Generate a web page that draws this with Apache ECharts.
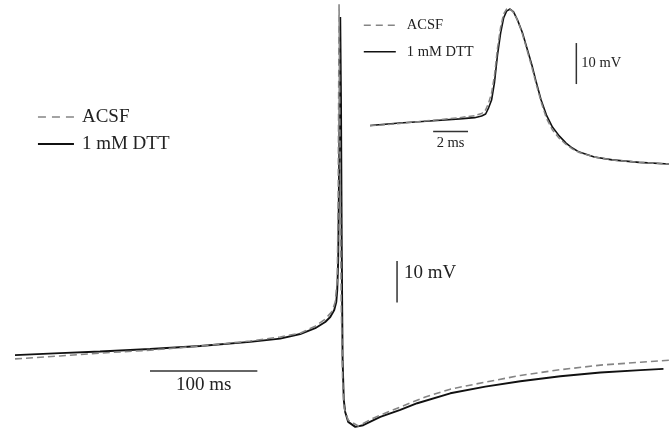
<!DOCTYPE html>
<html>
<head>
<meta charset="utf-8">
<script src="https://cdn.jsdelivr.net/npm/echarts@6/dist/echarts.min.js"></script>
<style>
  html, body { margin: 0; padding: 0; background: #fff; }
  #chart { width: 670px; height: 431px; }
</style>
</head>
<body>
<div id="chart"></div>
<script>
// ---- Data (time in ms, membrane potential in mV) ----
const seriesNames = ['ACSF', '1 mM DTT'];

// Main trace: full action potential with AHP
const mainACSF = [
  [0,-64.6],[41.9,-63.9],[79.2,-63.2],[125.8,-62.5],[172.4,-61.5],[219.0,-60.3],
  [247.0,-59.3],[265.6,-58.4],[279.6,-56.7],[288.9,-55.0],[295.4,-53.1],[298.2,-50.9],
  [300.1,-45.6],[301.0,-26.3],[301.8,21.0],[302.7,-14.2],[303.8,-50.4],[305.1,-69.7],
  [306.6,-76.5],[310.3,-79.4],[319.7,-80.8],[333.6,-78.9],[358.8,-76.2],[382.1,-73.8],
  [405.4,-71.9],[438.0,-70.2],[470.6,-68.6],[507.9,-67.2],[545.2,-66.1],[582.5,-65.4],
  [610.4,-64.9]
];
const mainDTT = [
  [0,-63.7],[41.9,-63.2],[79.2,-62.8],[125.8,-62.2],[172.4,-61.5],[219.0,-60.5],
  [247.0,-59.7],[265.6,-58.6],[279.6,-57.2],[288.9,-55.7],[293.6,-54.5],[297.3,-52.8],
  [299.2,-50.9],[300.1,-48.0],[301.0,-40.7],[302.0,-14.2],[302.9,17.9],[303.6,-2.1],
  [304.3,-38.3],[305.1,-64.9],[306.2,-74.5],[307.5,-77.4],[310.3,-79.8],[316.9,-81.0],
  [324.3,-80.6],[340.2,-78.6],[358.8,-76.9],[374.6,-75.3],[405.4,-72.9],[438.0,-71.3],
  [470.6,-70.0],[507.9,-68.8],[545.2,-67.9],[582.5,-67.3],[603.9,-67.0]
];

// Inset: expanded spike
const insetACSF = [
  [0,-30.7],[1.71,-30.1],[3.43,-29.4],[5.14,-28.7],[6.0,-28.2],[6.4,-27.7],[6.63,-26.8],
  [6.8,-25.1],[6.97,-22.7],[7.14,-18.3],[7.31,-11.7],[7.49,-6.6],[7.66,-3.4],[7.83,-2.2],
  [7.97,-2.1],[8.17,-2.7],[8.4,-4.4],[8.69,-7.6],[8.97,-11.7],[9.26,-16.1],[9.54,-20.7],
  [9.83,-25.1],[10.11,-28.8],[10.46,-31.7],[10.86,-33.8],[11.24,-35.2],[11.6,-36.3],
  [12.0,-37.2],[12.86,-38.3],[13.89,-39.0],[15.43,-39.6],[17.14,-40.0]
];
const insetDTT = [
  [0,-30.6],[1.71,-30.0],[3.43,-29.5],[5.14,-29.0],[6.0,-28.7],[6.4,-28.3],[6.63,-27.8],
  [6.8,-26.3],[6.97,-24.4],[7.14,-20.0],[7.31,-13.4],[7.49,-8.0],[7.66,-4.4],[7.83,-2.7],
  [8.03,-2.2],[8.23,-2.9],[8.46,-4.9],[8.74,-8.0],[9.03,-12.2],[9.31,-16.3],[9.54,-20.2],
  [9.81,-24.4],[10.11,-28.0],[10.46,-31.0],[10.86,-33.2],[11.24,-34.9],[11.6,-36.1],
  [12.0,-37.1],[12.86,-38.3],[13.89,-39.0],[15.43,-39.6],[17.14,-40.0]
];

// Scale bars (data units)
const mainTimeBar = { t: 125.7, v: -67.5, ms: 100, label: '100 ms' };
const mainVoltBar = { t: 355.8, v: -51.0, mV: 10, label: '10 mV' };
const insetTimeBar = { t: 3.62, v: -32.1, ms: 2, label: '2 ms' };
const insetVoltBar = { t: 11.83, v: -20.5, mV: 10, label: '10 mV' };

// ---- Chart ----
const FONT = '"Liberation Serif", "DejaVu Serif", serif';
const GREY = '#858585';
const BLACK = '#111111';
const chart = echarts.init(document.getElementById('chart'), null, { renderer: 'canvas' });

function lineSeries(name, data, gridIdx, style, z) {
  return {
    name: name, type: 'line', data: data,
    xAxisIndex: gridIdx, yAxisIndex: gridIdx,
    showSymbol: false, symbol: 'none',
    smooth: false,
    lineStyle: style, itemStyle: { color: style.color },
    z: z, silent: true, clip: false
  };
}

chart.setOption({
  animation: false,
  backgroundColor: '#ffffff',
  grid: [
    { left: 15, top: 0, width: 655, height: 431 },
    { left: 370, top: 0, width: 301, height: 184.5 }
  ],
  xAxis: [
    { type: 'value', gridIndex: 0, min: 0, max: 610, show: false },
    { type: 'value', gridIndex: 1, min: 0, max: 17.2, show: false }
  ],
  yAxis: [
    { type: 'value', gridIndex: 0, min: -82, max: 22, show: false },
    { type: 'value', gridIndex: 1, min: -45, max: 0, show: false }
  ],
  legend: [
    {
      left: 32, top: 102.5, orient: 'vertical',
      itemWidth: 36, itemHeight: 14, itemGap: 8,
      selectedMode: false, icon: 'inherit',
      textStyle: { fontFamily: FONT, fontSize: 19, lineHeight: 19, color: '#222', padding: [0, 0, 0, 3] },
      data: [
        { name: seriesNames[0], itemStyle: { opacity: 0 }, lineStyle: { color: GREY, width: 1.6, type: [8, 6] } },
        { name: seriesNames[1], itemStyle: { opacity: 0 }, lineStyle: { color: BLACK, width: 1.9 } }
      ]
    },
    {
      left: 358, top: 12.75, orient: 'vertical',
      itemWidth: 32, itemHeight: 12, itemGap: 11.5,
      selectedMode: false, icon: 'inherit',
      textStyle: { fontFamily: FONT, fontSize: 14.5, lineHeight: 14.5, color: '#222', padding: [0, 0, 0, 6] },
      data: [
        { name: seriesNames[0], itemStyle: { opacity: 0 }, lineStyle: { color: GREY, width: 1.5, type: [7, 5] } },
        { name: seriesNames[1], itemStyle: { opacity: 0 }, lineStyle: { color: BLACK, width: 1.6 } }
      ]
    }
  ],
  series: [
    lineSeries(seriesNames[1], mainDTT, 0, { color: BLACK, width: 1.9, type: 'solid' }, 2),
    lineSeries(seriesNames[0], mainACSF, 0, { color: GREY, width: 1.6, type: [7, 4] }, 3),
    lineSeries(seriesNames[1], insetDTT, 1, { color: BLACK, width: 1.6, type: 'solid' }, 2),
    lineSeries(seriesNames[0], insetACSF, 1, { color: GREY, width: 1.5, type: [6, 3] }, 3)
  ]
});

// Scale bars placed through the axes' own scales
function px(grid, t, v) { return chart.convertToPixel({ gridIndex: grid }, [t, v]); }
const barColor = '#333';
const graphics = [];
function timeBar(grid, b, fontSize, dy) {
  const a = px(grid, b.t, b.v), c = px(grid, b.t + b.ms, b.v);
  graphics.push({ type: 'line', shape: { x1: a[0], y1: a[1], x2: c[0], y2: c[1] }, style: { stroke: barColor, lineWidth: 1.5 }, silent: true });
  graphics.push({ type: 'text', x: (a[0] + c[0]) / 2, y: a[1] + dy, style: { text: b.label, font: fontSize + 'px ' + FONT, fill: '#222', align: 'center', verticalAlign: 'middle' }, silent: true });
}
function voltBar(grid, b, fontSize, dx, dy) {
  const a = px(grid, b.t, b.v), c = px(grid, b.t, b.v + b.mV);
  graphics.push({ type: 'line', shape: { x1: a[0], y1: a[1], x2: c[0], y2: c[1] }, style: { stroke: barColor, lineWidth: 1.5 }, silent: true });
  graphics.push({ type: 'text', x: a[0] + dx, y: c[1] + dy, style: { text: b.label, font: fontSize + 'px ' + FONT, fill: '#222', align: 'left', verticalAlign: 'middle' }, silent: true });
}
timeBar(0, mainTimeBar, 19, 14);
voltBar(0, mainVoltBar, 19, 7, 12);
timeBar(1, insetTimeBar, 14.5, 11.5);
voltBar(1, insetVoltBar, 14.5, 5, 20);
chart.setOption({ graphic: graphics });
</script>
</body>
</html>
